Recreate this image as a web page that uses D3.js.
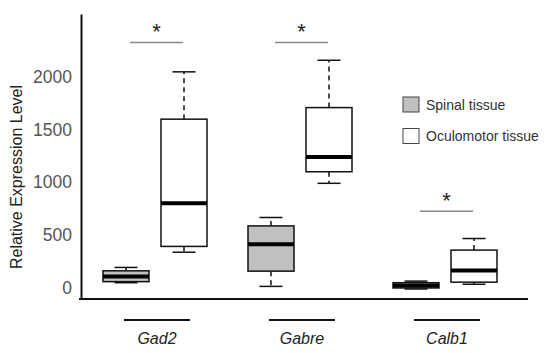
<!DOCTYPE html>
<html>
<head>
<meta charset="utf-8">
<script src="https://cdn.jsdelivr.net/npm/d3@7"></script>
<style>
  body { margin: 0; background: #fff; }
  svg { font-family: Arial, "Liberation Sans", sans-serif; }
</style>
</head>
<body>
<svg id="chart" width="550" height="353"></svg>
<script>
// data: [min, q1, median, q3, max]
const genes = ["Gad2", "Gabre", "Calb1"];
const tissues = ["Spinal tissue", "Oculomotor tissue"];
const spinalStats = [
  [45, 55, 105, 158, 190],
  [10, 155, 410, 585, 665],
  [-15, -5, 18, 45, 60]
];
const oculomotorStats = [
  [335, 390, 800, 1600, 2050],
  [990, 1100, 1240, 1710, 2160],
  [30, 50, 160, 355, 465]
];
const yTicks = [0, 500, 1000, 1500, 2000];
const tissueColors = ["#c0c0c0", "#ffffff"];

const svg = d3.select("#chart");

const y = d3.scaleLinear().domain([-110, 2600]).range([299, 14]);
const x = d3.scalePoint().domain(genes).range([155, 445]);
const xSub = d3.scaleBand().domain(tissues).range([-52, 52]).paddingInner(0.207);

// y axis (labels only, no ticks)
const yAxis = svg.append("g")
  .attr("transform", "translate(81,0)")
  .call(d3.axisLeft(y).tickValues(yTicks).tickSize(0).tickPadding(9).tickFormat(d3.format("d")));
yAxis.select(".domain").attr("stroke", "#111").attr("stroke-width", 2);
yAxis.selectAll("text").attr("font-size", 17.5).attr("fill", "#555").attr("font-family", "Arial, 'Liberation Sans', sans-serif");

// x axis line
svg.append("line")
  .attr("x1", 79).attr("x2", 528)
  .attr("y1", y(-110)).attr("y2", y(-110))
  .attr("stroke", "#111").attr("stroke-width", 2);

svg.append("text")
  .attr("transform", "translate(22,177) rotate(-90)")
  .attr("text-anchor", "middle")
  .attr("font-size", 16)
  .attr("fill", "#222")
  .text("Relative Expression Level");

// boxes
const rows = [];
genes.forEach((g, i) => {
  rows.push({ gene: g, tissue: tissues[0], s: spinalStats[i], fill: tissueColors[0] });
  rows.push({ gene: g, tissue: tissues[1], s: oculomotorStats[i], fill: tissueColors[1] });
});

const bw = xSub.bandwidth();
const box = svg.append("g").selectAll("g")
  .data(rows)
  .join("g")
  .attr("transform", d => `translate(${x(d.gene) + xSub(d.tissue)},0)`);

// whiskers (dashed)
box.append("line")
  .attr("x1", bw / 2).attr("x2", bw / 2)
  .attr("y1", d => y(d.s[3])).attr("y2", d => y(d.s[4]))
  .attr("stroke", "#111").attr("stroke-width", 1.5).attr("stroke-dasharray", "5,4");
box.append("line")
  .attr("x1", bw / 2).attr("x2", bw / 2)
  .attr("y1", d => y(d.s[1])).attr("y2", d => y(d.s[0]))
  .attr("stroke", "#111").attr("stroke-width", 1.5).attr("stroke-dasharray", "5,4");
// caps
[0, 4].forEach(k => {
  box.append("line")
    .attr("x1", bw / 2 - 11.5).attr("x2", bw / 2 + 11.5)
    .attr("y1", d => y(d.s[k])).attr("y2", d => y(d.s[k]))
    .attr("stroke", "#111").attr("stroke-width", 1.5);
});
box.append("rect")
  .attr("x", 0).attr("width", bw)
  .attr("y", d => y(d.s[3]))
  .attr("height", d => y(d.s[1]) - y(d.s[3]))
  .attr("fill", d => d.fill)
  .attr("stroke", "#111").attr("stroke-width", 1.5);
box.append("line")
  .attr("x1", 0).attr("x2", bw)
  .attr("y1", d => y(d.s[2])).attr("y2", d => y(d.s[2]))
  .attr("stroke", "#000").attr("stroke-width", 4);

// significance bars
const sigY = [2330, 2330, 725];
genes.forEach((g, i) => {
  const x1 = x(g) + xSub(tissues[0]) + bw / 2 + 4;
  const x2 = x(g) + xSub(tissues[1]) + bw / 2 - 1;
  svg.append("line")
    .attr("x1", x1).attr("x2", x2)
    .attr("y1", y(sigY[i])).attr("y2", y(sigY[i]))
    .attr("stroke", "#888").attr("stroke-width", 1.5);
  svg.append("text")
    .attr("x", (x1 + x2) / 2).attr("y", y(sigY[i]) - 3)
    .attr("text-anchor", "middle")
    .attr("font-size", 22)
    .attr("fill", "#222")
    .text("*");
});

// gene labels with bars
genes.forEach(g => {
  const cx = x(g) + 2;
  svg.append("line")
    .attr("x1", cx - 33).attr("x2", cx + 33)
    .attr("y1", 320).attr("y2", 320)
    .attr("stroke", "#111").attr("stroke-width", 2);
  svg.append("text")
    .attr("x", cx).attr("y", 344)
    .attr("text-anchor", "middle")
    .attr("font-size", 16)
    .attr("font-style", "italic")
    .attr("fill", "#222")
    .text(g);
});

// legend
const legend = svg.append("g").selectAll("g")
  .data(tissues)
  .join("g")
  .attr("transform", (d, i) => `translate(403,${97 + i * 31.5})`);
legend.append("rect")
  .attr("width", 16).attr("height", 15)
  .attr("fill", (d, i) => tissueColors[i])
  .attr("stroke", "#444").attr("stroke-width", 1);
legend.append("text")
  .attr("x", 23).attr("y", 12.5)
  .attr("font-size", 14)
  .attr("fill", "#333")
  .text(d => d);
</script>
</body>
</html>
